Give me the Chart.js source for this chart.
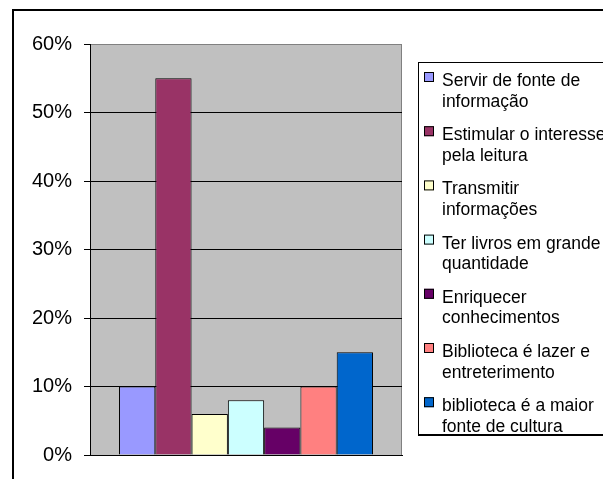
<!DOCTYPE html>
<html>
<head>
<meta charset="utf-8">
<script src="https://cdn.jsdelivr.net/npm/chart.js@4/dist/chart.umd.min.js"></script>
<style>
  html, body { margin: 0; padding: 0; background: #fff; }
  canvas { display: block; }
</style>
</head>
<body>
<canvas id="c" width="603" height="479"></canvas>
<script>
// ---- data ----
const categories = [''];
const seriesNames = [
  ['Servir de fonte de', 'informação'],
  ['Estimular o interesse', 'pela leitura'],
  ['Transmitir', 'informações'],
  ['Ter livros em grande', 'quantidade'],
  ['Enriquecer', 'conhecimentos'],
  ['Biblioteca é lazer e', 'entreterimento'],
  ['biblioteca é a maior', 'fonte de cultura']
];
const seriesValues = [10, 55, 6, 8, 4, 10, 15];
const seriesColors = ['#9999FF', '#993366', '#FFFFCC', '#CCFFFF', '#660066', '#FF8080', '#0066CC'];
const yTickValues = [0, 10, 20, 30, 40, 50, 60];
const yTickLabels = ['0%', '10%', '20%', '30%', '40%', '50%', '60%'];

const FONT = '"Liberation Sans", Arial, sans-serif';

const datasets = seriesNames.map((lines, i) => ({
  label: lines.join(' '),
  legendLines: lines,
  data: [seriesValues[i]],
  backgroundColor: seriesColors[i],
  borderColor: '#000',
  borderWidth: 1,
  categoryPercentage: 0.814,
  barPercentage: 1
}));

const bgPlugin = {
  id: 'bg',
  beforeDraw(chart) {
    const { ctx, chartArea: a } = chart;
    ctx.save();
    ctx.fillStyle = '#fff';
    ctx.fillRect(0, 0, chart.width, chart.height);
    ctx.fillStyle = '#C0C0C0';
    ctx.fillRect(a.left, a.top, a.right - a.left, a.bottom - a.top);
    ctx.strokeStyle = '#808080';
    ctx.lineWidth = 1;
    ctx.strokeRect(Math.round(a.left) + 0.5, Math.round(a.top) + 0.5,
                   Math.round(a.right - a.left) - 1, Math.round(a.bottom - a.top));
    ctx.restore();
  },
  afterDraw(chart) {
    const { ctx } = chart;
    ctx.save();
    // outer chart border
    ctx.strokeStyle = '#000';
    ctx.lineWidth = 2;
    ctx.strokeRect(13, 10, 700, 600);
    // legend box
    const bx = 418, by = 62, bb = 435;
    ctx.fillStyle = '#fff';
    ctx.fillRect(bx, by, 300, bb - by);
    ctx.lineWidth = 1;
    ctx.strokeRect(bx + 0.5, by + 0.5, 300, bb - by - 1);
    ctx.beginPath();
    ctx.moveTo(bx, bb + 0.5);
    ctx.lineTo(700, bb + 0.5);
    ctx.stroke();
    ctx.font = '17.5px ' + FONT;
    ctx.textAlign = 'left';
    ctx.textBaseline = 'alphabetic';
    const step = 54.2;
    chart.data.datasets.forEach((ds, i) => {
      const sy = 72 + step * i;
      ctx.fillStyle = ds.backgroundColor;
      ctx.fillRect(424, sy, 10, 10);
      ctx.strokeStyle = '#000';
      ctx.lineWidth = 1;
      ctx.strokeRect(424.5, sy + 0.5, 9, 9);
      ctx.fillStyle = '#000';
      ds.legendLines.forEach((t, j) => {
        ctx.fillText(t, 442, sy + 14 + j * 20.5);
      });
    });
    ctx.restore();
  }
};

new Chart(document.getElementById('c'), {
  type: 'bar',
  data: { labels: categories, datasets },
  options: {
    responsive: false,
    animation: false,
    events: [],
    layout: { padding: { left: 0, top: 44, right: 201, bottom: 24 } },
    plugins: { legend: { display: false }, tooltip: { enabled: false }, title: { display: false } },
    scales: {
      x: {
        display: true,
        grid: { display: false },
        ticks: { display: false },
        border: { display: true, color: '#000', width: 1 },
        afterFit(s) { s.height = 0; }
      },
      y: {
        min: 0, max: 60,
        afterBuildTicks(s) { s.ticks = yTickValues.map(v => ({ value: v })); },
        afterFit(s) { s.width = 90; },
        grid: {
          color: ctx => (ctx.tick && ctx.tick.value === 60) ? '#808080' : '#000',
          tickColor: '#000',
          tickLength: 6,
          drawTicks: true,
          lineWidth: 1
        },
        border: { display: true, color: '#000', width: 1 },
        ticks: {
          padding: 12,
          color: '#000',
          font: { family: FONT, size: 20 },
          callback: (v) => yTickLabels[yTickValues.indexOf(v)]
        }
      }
    }
  },
  plugins: [bgPlugin]
});
</script>
</body>
</html>
